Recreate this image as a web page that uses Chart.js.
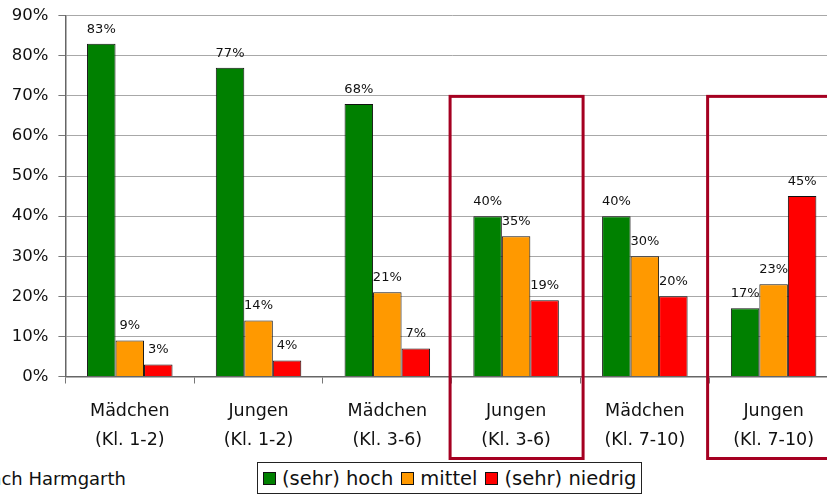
<!DOCTYPE html>
<html>
<head>
<meta charset="utf-8">
<script src="https://cdn.jsdelivr.net/npm/chart.js@4.4.1/dist/chart.umd.min.js"></script>
<style>
    html, body { margin: 0; padding: 0; background: #fff; overflow: hidden; width: 827px; height: 495px; }
    #wrap { position: absolute; left: 0; top: 0; width: 838px; height: 460px; }
    .legend { position: absolute; left: 257px; top: 462px; width: 385px; height: 32px; border: 1px solid #222; box-sizing: border-box;
        display: flex; align-items: center; padding-left: 5px; font: 19.5px "DejaVu Sans", sans-serif; color: #111; white-space: nowrap; }
    .legend .sw { width: 11px; height: 11px; border: 1px solid #111; margin-right: 6px; flex: none; }
    .legend .item { display: flex; align-items: center; margin-right: 8px; }
    .note { position: absolute; left: -21px; top: 467px; font: 18px "DejaVu Sans", sans-serif; color: #111; line-height: 23.5px; white-space: nowrap; }
</style>
</head>
<body>
<div id="wrap"><canvas id="chart"></canvas></div>
<div class="legend" id="legend"></div>
<div class="note">nach Harmgarth<br>2007, S. 21</div>
<script>
    // ─── DATA ───
    const categories = [
        ['Mädchen', '(Kl. 1-2)'], ['Jungen', '(Kl. 1-2)'],
        ['Mädchen', '(Kl. 3-6)'], ['Jungen', '(Kl. 3-6)'],
        ['Mädchen', '(Kl. 7-10)'], ['Jungen', '(Kl. 7-10)']
    ];
    const seriesNames = ['(sehr) hoch', 'mittel', '(sehr) niedrig'];
    const hoch = [83, 77, 68, 40, 40, 17];
    const mittel = [9, 14, 21, 35, 30, 23];
    const niedrig = [3, 4, 7, 19, 20, 45];
    const seriesColors = ['#008000', '#FF9900', '#FF0000'];
    const yMax = 90;
    const yStep = 10;
    const highlighted = [3, 5];

    // ─── PLUGINS ───
    const valueLabels = {
        id: 'valueLabels',
        afterDatasetsDraw(chart) {
            const ctx = chart.ctx;
            ctx.save();
            ctx.font = '13px "DejaVu Sans", sans-serif';
            ctx.fillStyle = '#111';
            ctx.textAlign = 'center';
            ctx.textBaseline = 'alphabetic';
            chart.data.datasets.forEach((ds, di) => {
                chart.getDatasetMeta(di).data.forEach((bar, i) => {
                    ctx.fillText(ds.data[i] + '%', bar.x, bar.y - 11);
                });
            });
            ctx.restore();
        }
    };

    const highlightBoxes = {
        id: 'highlightBoxes',
        afterDraw(chart) {
            const ctx = chart.ctx;
            const xs = chart.scales.x, ys = chart.scales.y;
            ctx.save();
            ctx.strokeStyle = '#A50021';
            ctx.lineWidth = 3;
            highlighted.forEach(i => {
                const cx = xs.getPixelForValue(i);
                const top = ys.getPixelForValue(70) + 0.5;
                const bottom = chart.chartArea.bottom + 82;
                ctx.strokeRect(cx - 66, top, 133, bottom - top);
            });
            ctx.restore();
        }
    };

    // ─── CHART ───
    const datasets = [hoch, mittel, niedrig].map((d, i) => ({
        label: seriesNames[i],
        data: d,
        backgroundColor: seriesColors[i],
        borderColor: '#111',
        borderWidth: 1,
        categoryPercentage: 0.664,
        barPercentage: 1.0
    }));

    new Chart(document.getElementById('chart').getContext('2d'), {
        type: 'bar',
        data: { labels: categories, datasets },
        options: {
            responsive: true,
            maintainAspectRatio: false,
            animation: false,
            layout: { autoPadding: false, padding: { top: 15.7, right: 0, bottom: 0, left: 0 } },
            plugins: { legend: { display: false }, tooltip: { enabled: false } },
            scales: {
                x: {
                    grid: { display: true, drawOnChartArea: false, tickLength: 7, color: '#777', offset: true },
                    border: { color: '#666', width: 1.5 },
                    ticks: { color: '#111', padding: 14, font: { family: 'DejaVu Sans', size: 17.5, lineHeight: 1.62 }, maxRotation: 0, autoSkip: false },
                    afterFit: s => { s.height = 83.5; s.paddingLeft = 0; s.paddingRight = 0; }
                },
                y: {
                    min: 0, max: yMax,
                    grid: { color: '#A8A8A8', tickLength: 7, tickColor: '#777' },
                    border: { color: '#666', width: 1.5 },
                    ticks: { stepSize: yStep, color: '#111', padding: 10, font: { family: 'DejaVu Sans', size: 16.5 }, callback: v => v + '%' },
                    afterFit: s => { s.width = 65.4; s.paddingTop = 0; s.paddingBottom = 0; }
                }
            }
        },
        plugins: [valueLabels, highlightBoxes]
    });

    // ─── LEGEND ───
    const legend = document.getElementById('legend');
    seriesNames.forEach((name, i) => {
        const item = document.createElement('div');
        item.className = 'item';
        item.innerHTML = '<span class="sw" style="background:' + seriesColors[i] + '"></span><span>' + name + '</span>';
        legend.appendChild(item);
    });
</script>
</body>
</html>
